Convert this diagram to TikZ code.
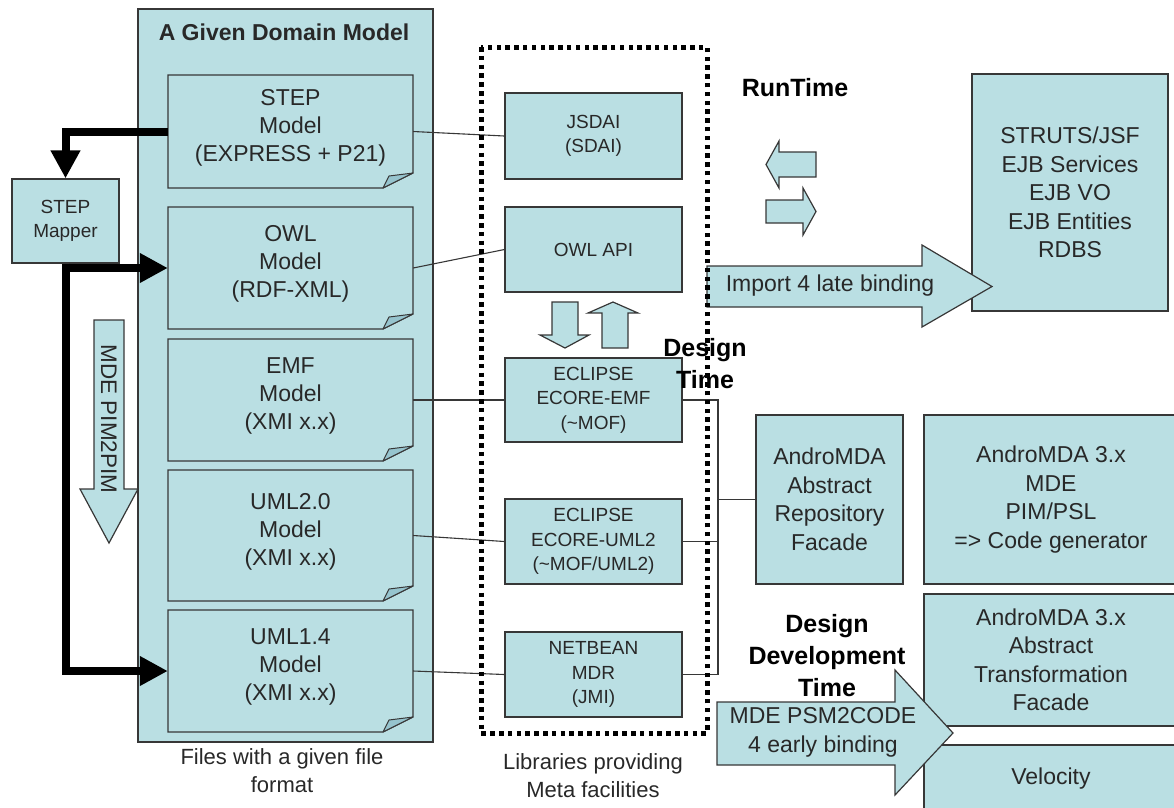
\documentclass[tikz,border=0pt]{standalone}
\usepackage{fontspec}
\setmainfont{Liberation Sans}
\usetikzlibrary{arrows.meta,calc}
\definecolor{boxc}{RGB}{186,223,227}
\definecolor{foldc}{RGB}{150,196,206}
\definecolor{linec}{RGB}{55,55,55}
\definecolor{textc}{RGB}{40,40,40}
\newcommand{\myfs}[2]{\fontsize{#1}{#2}\selectfont}
\tikzset{
  box/.style={draw=linec, fill=boxc, line width=1.2pt, inner sep=0pt},
  conn/.style={draw=linec, line width=1.1pt},
  thickarr/.style={draw=black, line width=8pt, line join=miter, -{Triangle[length=28pt,width=28pt]}},
  blk/.style={fill=boxc, draw=linec, line width=1.2pt, line join=miter},
  doctext/.style={font=\myfs{23}{28}, align=center, text=textc, inner sep=0pt},
  libtext/.style={font=\myfs{19}{24.5}, align=center, text=textc},
  rtext/.style={font=\myfs{23}{28.5}, align=center, text=textc},
  boldlbl/.style={font=\bfseries\myfs{25}{32}, align=center, text=black, inner sep=0pt},
  captext/.style={font=\myfs{22}{28}, align=center, text=textc, inner sep=0pt},
}
\newcommand{\docbox}[6]{%
  \fill[boxc] (#2,#3) -- (#4,#3) -- (#4,#5-15) -- (#4-30,#5) -- (#2,#5) -- cycle;
  \draw[linec, line width=1.2pt, line join=miter] (#2,#3) -- (#4,#3) -- (#4,#5-15) -- (#4-30,#5) -- (#2,#5) -- cycle;
  \filldraw[fill=foldc, draw=linec, line width=1pt, line join=round] (#4-30,#5) -- (#4-24,#5-12) -- (#4,#5-15) -- cycle;
  \node[inner sep=0pt, minimum width={(#4-#2)*1pt}, minimum height={(#5-#3)*1pt}] (#1) at ({(#2+#4)/2},{(#3+#5)/2}) {};
  \node[doctext] (#1-t) at ({(#2+#4)/2},{(#3+#5)/2-4}) {#6};
}
\begin{document}
\begin{tikzpicture}[x=1pt,y=-1pt]
\useasboundingbox (0,0) rectangle (1174,807);
\clip (0,0) rectangle (1174,807);

% domain box
\node[box, minimum width=295pt, minimum height=733pt] (domain) at (285.5,375.5) {};
\node[font=\bfseries\myfs{23}{28}, text=textc, inner sep=0pt] (title) at (284,32) {A Given Domain Model};

% document boxes
\docbox{stepm}{168}{75}{413}{188}{STEP\\Model\\(EXPRESS + P21)}
\docbox{owl}{168}{207}{413}{329}{OWL\\Model\\(RDF-XML)}
\docbox{emf}{168}{339}{413}{461}{EMF\\Model\\(XMI x.x)}
\docbox{umltwo}{168}{470}{413}{601}{UML2.0\\Model\\(XMI x.x)}
\docbox{umlone}{168}{610}{413}{732}{UML1.4\\Model\\(XMI x.x)}

\node[captext] (filescap) at (282,771) {Files with a given file\\format};

% STEP mapper
\node[box, minimum width=107pt, minimum height=84pt, font=\myfs{19}{24}, align=center, text=textc] (mapper) at (65.5,221) {STEP\\Mapper};

% MDE PIM2PIM block arrow
\path[blk] (94,320) -- (124,320) -- (124,489) -- (138,489) -- (109,543) -- (80,489) -- (94,489) -- cycle;
\node[font=\myfs{22.5}{26}, text=textc, rotate=-90, inner sep=0pt] (pim) at (109,419) {MDE PIM2PIM};

% thick arrows
\draw[thickarr] (stepm.west) -| (mapper.north);
\draw[thickarr] (mapper.south) |- (owl.west);
\draw[thickarr] (mapper.south) |- (umlone.west);

% library boxes
\node[box, minimum width=177pt, minimum height=86pt, libtext] (jsdai) at (593.5,136) {JSDAI\\(SDAI)};
\node[box, minimum width=177pt, minimum height=85pt, libtext] (owlapi) at (593.5,249.5) {OWL API};
\node[box, minimum width=177pt, minimum height=84pt, libtext] (ecoreemf) at (593.5,400) {ECLIPSE\\ECORE-EMF\\(\textasciitilde MOF)};
\node[box, minimum width=177pt, minimum height=85pt, libtext] (ecoreuml) at (593.5,541.5) {ECLIPSE\\ECORE-UML2\\(\textasciitilde MOF/UML2)};
\node[box, minimum width=177pt, minimum height=85pt, libtext] (netbean) at (593.5,674.5) {NETBEAN\\MDR\\(JMI)};
\node[captext] (libcap) at (593,776) {Libraries providing\\Meta facilities};

% up/down arrows between OWL API and ECLIPSE
\path[blk] (552,302) -- (578,302) -- (578,335) -- (589,335) -- (565,348) -- (540,335) -- (552,335) -- cycle;
\path[blk] (602,348) -- (628,348) -- (628,313) -- (638,313) -- (613,302) -- (588,313) -- (602,313) -- cycle;

% connectors
\draw[conn] (stepm.east) -- (jsdai.west);
\draw[conn] (owl.east) -- (owlapi.west);
\draw[conn] (emf.east) -- (ecoreemf.west);
\draw[conn] (umltwo.east) -- (ecoreuml.west);
\draw[conn] (umlone.east) -- (netbean.west);

% right side boxes
\node[box, minimum width=147pt, minimum height=169pt, rtext] (repo) at (829.5,499.5) {AndroMDA\\Abstract\\Repository\\Facade};
\node[box, minimum width=254pt, minimum height=169pt, rtext] (mde) at (1051,499.5) {AndroMDA 3.x\\MDE\\PIM/PSL\\=> Code generator};
\node[box, minimum width=254pt, minimum height=132pt, rtext] (trans) at (1051,660) {AndroMDA 3.x\\Abstract\\Transformation\\Facade};
\node[box, minimum width=254pt, minimum height=67pt, rtext] (velocity) at (1051,778.5) {Velocity};
\node[box, minimum width=196pt, minimum height=237pt, rtext] (struts) at (1070,192.5) {STRUTS/JSF\\EJB Services\\EJB VO\\EJB Entities\\RDBS};

\coordinate (busT) at (718,400);
\coordinate (busB) at (718,674.5);
\draw[conn] (ecoreemf.east) -- (busT) -- (busB) -- (netbean.east);
\draw[conn] (ecoreuml.east) -- (ecoreuml.east -| busT);
\draw[conn] (repo.west -| busT) -- (repo.west);

% block arrows on the right
\path[blk] (816,152) -- (779,152) -- (779,141) -- (766,164.5) -- (779,188) -- (779,177) -- (816,177) -- cycle;
\path[blk] (766,200) -- (803,200) -- (803,188) -- (816,211.5) -- (803,235) -- (803,223) -- (766,223) -- cycle;
\path[blk] (707,266) -- (922,266) -- (922,245) -- (992,286.5) -- (922,327) -- (922,307) -- (707,307) -- cycle;
\node[font=\myfs{23}{28}, text=textc, inner sep=0pt] (late) at (830,286) {Import 4 late binding};
\path[blk] (717,702) -- (895,702) -- (895,670) -- (953,733) -- (895,795) -- (895,765) -- (717,765) -- cycle;
\node[font=\myfs{23}{29}, align=center, text=textc, inner sep=0pt] (early) at (823,732) {MDE PSM2CODE\\4 early binding};

% dotted library frame
\draw[black, line width=5pt, dash pattern=on 4.5pt off 4.3pt] (481,47) rectangle (707,733);

% labels
\node[boldlbl] (runtime) at (795,88) {RunTime};
\node[boldlbl] (designtime) at (705,364) {Design\\Time};
\node[boldlbl] (ddt) at (827,656) {Design\\Development\\Time};
\end{tikzpicture}
\end{document}
